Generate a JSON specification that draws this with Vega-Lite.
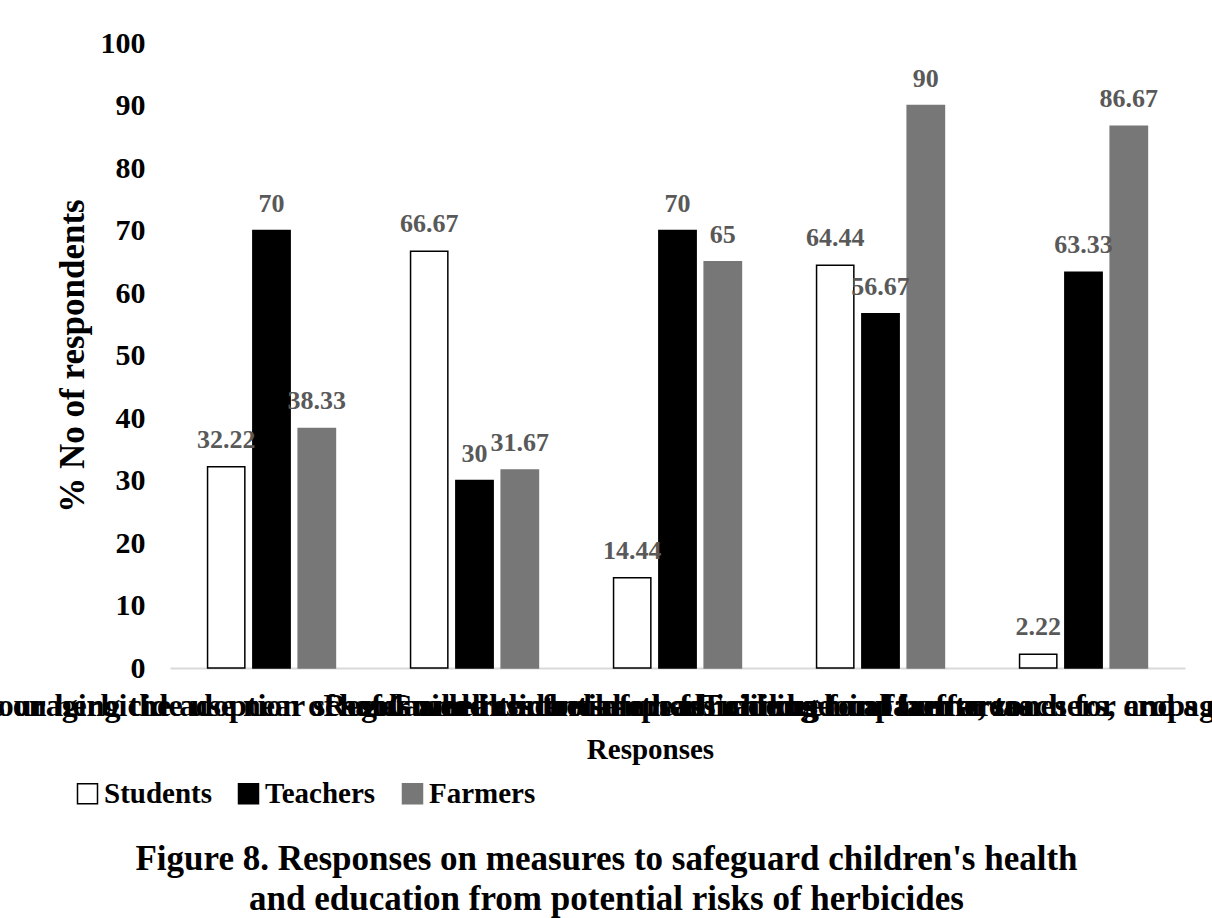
{
  "$schema": "https://vega.github.io/schema/vega-lite/v6.json",
  "width": 1015,
  "height": 625,
  "autosize": {"type": "none"},
  "padding": {"left": 170, "top": 43, "right": 27, "bottom": 250},
  "background": "white",
  "config": {
    "view": {"stroke": null},
    "font": "Liberation Serif"
  },
  "title": {
    "text": ["Figure 8. Responses on measures to safeguard children's health", "and education from potential risks of herbicides"],
    "orient": "bottom",
    "anchor": "middle",
    "dx": -71,
    "offset": 33,
    "font": "Liberation Serif",
    "fontSize": 35,
    "fontWeight": "bold",
    "lineHeight": 40,
    "color": "black"
  },
  "data": {
    "values": [
      {"response": "Restrictions on herbicide use near schools and residential areas", "group": "Students", "value": 32.22},
      {"response": "Restrictions on herbicide use near schools and residential areas", "group": "Teachers", "value": 70},
      {"response": "Restrictions on herbicide use near schools and residential areas", "group": "Farmers", "value": 38.33},
      {"response": "Encouraging the adoption of safer weed control methods among local farmers", "group": "Students", "value": 66.67},
      {"response": "Encouraging the adoption of safer weed control methods among local farmers", "group": "Teachers", "value": 30},
      {"response": "Encouraging the adoption of safer weed control methods among local farmers", "group": "Farmers", "value": 31.67},
      {"response": "Regular health check-ups for children in farm areas", "group": "Students", "value": 14.44},
      {"response": "Regular health check-ups for children in farm areas", "group": "Teachers", "value": 70},
      {"response": "Regular health check-ups for children in farm areas", "group": "Farmers", "value": 65},
      {"response": "Guidelines for safe herbicide use and buffer zones for crops near schools", "group": "Students", "value": 64.44},
      {"response": "Guidelines for safe herbicide use and buffer zones for crops near schools", "group": "Teachers", "value": 56.67},
      {"response": "Guidelines for safe herbicide use and buffer zones for crops near schools", "group": "Farmers", "value": 90},
      {"response": "Training for parents, teachers, and agricultural workers", "group": "Students", "value": 2.22},
      {"response": "Training for parents, teachers, and agricultural workers", "group": "Teachers", "value": 63.33},
      {"response": "Training for parents, teachers, and agricultural workers", "group": "Farmers", "value": 86.67}
    ]
  },
  "encoding": {
    "x": {
      "field": "response",
      "type": "nominal",
      "sort": null,
      "scale": {"paddingInner": 0.37, "paddingOuter": 0.185},
      "axis": {
        "title": "Responses",
        "titleFont": "Liberation Serif",
        "titleFontSize": 29,
        "titleFontWeight": "bold",
        "titleColor": "black",
        "titlePadding": 14,
        "titleX": 480,
        "labelAngle": 0,
        "labelFont": "Liberation Serif",
        "labelFontSize": 32,
        "labelFontWeight": "bold",
        "labelColor": "black",
        "labelLimit": 0,
        "labelOverlap": false,
        "labelPadding": 22,
        "labelBound": false,
        "labelFlush": false,
        "ticks": false,
        "domainColor": "#d9d9d9",
        "domainWidth": 2,
        "grid": false
      }
    },
    "xOffset": {
      "field": "group",
      "type": "nominal",
      "sort": ["Students", "Teachers", "Farmers"],
      "scale": {"paddingInner": 0.177, "paddingOuter": 0}
    },
    "y": {
      "field": "value",
      "type": "quantitative",
      "scale": {"domain": [0, 100]},
      "axis": {
        "title": "% No of respondents",
        "titleFont": "Liberation Serif",
        "titleFontSize": 35,
        "titleFontWeight": "bold",
        "titleColor": "black",
        "titlePadding": 10,
        "values": [0, 10, 20, 30, 40, 50, 60, 70, 80, 90, 100],
        "labelFont": "Liberation Serif",
        "labelFontSize": 30,
        "labelFontWeight": "bold",
        "labelColor": "black",
        "labelPadding": 25,
        "ticks": false,
        "domain": false,
        "grid": false
      }
    }
  },
  "layer": [
    {
      "mark": {"type": "bar", "strokeWidth": 1.5},
      "encoding": {
        "fill": {
          "field": "group",
          "type": "nominal",
          "scale": {"domain": ["Students", "Teachers", "Farmers"], "range": ["#ffffff", "#000000", "#777777"]},
          "legend": {
            "orient": "none",
            "legendX": -97,
            "legendY": 736,
            "direction": "horizontal",
            "title": null,
            "labelFont": "Liberation Serif",
            "labelFontSize": 29,
            "labelFontWeight": "bold",
            "labelColor": "black",
            "symbolType": "square",
            "symbolSize": 400,
            "symbolStrokeWidth": 1.5,
            "columnPadding": 22,
            "labelOffset": 2
          }
        },
        "stroke": {
          "field": "group",
          "type": "nominal",
          "scale": {"domain": ["Students", "Teachers", "Farmers"], "range": ["#000000", "#000000", "#777777"]},
          "legend": null
        }
      }
    },
    {
      "mark": {"type": "text", "baseline": "alphabetic", "dy": -19, "font": "Liberation Serif", "fontSize": 26, "fontWeight": "bold", "color": "#595959"},
      "encoding": {
        "text": {"field": "value", "type": "quantitative"}
      }
    }
  ]
}
